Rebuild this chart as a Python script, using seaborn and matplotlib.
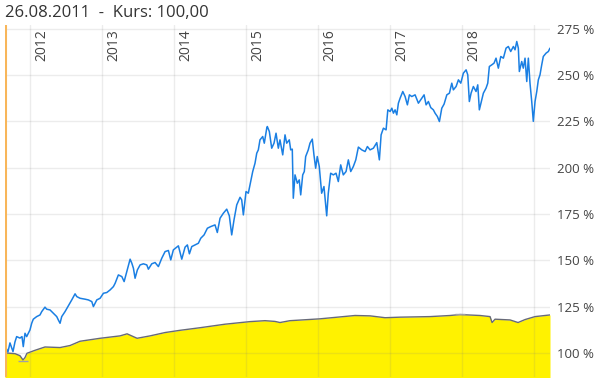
import numpy as np
import pandas as pd
import seaborn as sns
import matplotlib.pyplot as plt
import matplotlib.ticker as mtick
import matplotlib.transforms as mtrans

# share price in % of the 26.08.2011 close (time as decimal year)
kurs_t = [2011.653, 2011.667, 2011.694, 2011.722, 2011.764, 2011.792, 2011.815, 2011.861, 2011.889, 2011.907,
          2011.931, 2011.954, 2012.000, 2012.024, 2012.046, 2012.093, 2012.139, 2012.163, 2012.208, 2012.232,
          2012.278, 2012.324, 2012.371, 2012.393, 2012.417, 2012.440, 2012.486, 2012.532, 2012.579, 2012.625,
          2012.649, 2012.694, 2012.764, 2012.810, 2012.857, 2012.879, 2012.926, 2012.972, 2013.018, 2013.065,
          2013.111, 2013.157, 2013.181, 2013.226, 2013.274, 2013.306, 2013.343, 2013.389, 2013.413, 2013.435,
          2013.458, 2013.490, 2013.528, 2013.574, 2013.621, 2013.643, 2013.690, 2013.736, 2013.782, 2013.829,
          2013.875, 2013.921, 2013.954, 2013.990, 2014.060, 2014.107, 2014.153, 2014.185, 2014.213, 2014.246,
          2014.292, 2014.338, 2014.371, 2014.417, 2014.463, 2014.510, 2014.569, 2014.601, 2014.639, 2014.685,
          2014.732, 2014.768, 2014.801, 2014.833, 2014.871, 2014.917, 2014.940, 2014.963, 2015.000, 2015.032,
          2015.056, 2015.093, 2015.125, 2015.149, 2015.171, 2015.194, 2015.232, 2015.254, 2015.288, 2015.296,
          2015.324, 2015.357, 2015.389, 2015.417, 2015.449, 2015.472, 2015.510, 2015.542, 2015.565, 2015.601,
          2015.621, 2015.643, 2015.657, 2015.681, 2015.713, 2015.740, 2015.760, 2015.788, 2015.810, 2015.829,
          2015.865, 2015.889, 2015.921, 2015.944, 2015.968, 2015.990, 2016.018, 2016.051, 2016.083, 2016.121,
          2016.143, 2016.176, 2016.213, 2016.250, 2016.282, 2016.315, 2016.351, 2016.389, 2016.421, 2016.454,
          2016.490, 2016.524, 2016.560, 2016.607, 2016.653, 2016.685, 2016.722, 2016.768, 2016.815, 2016.851,
          2016.875, 2016.907, 2016.944, 2016.968, 2017.000, 2017.024, 2017.046, 2017.069, 2017.093, 2017.115,
          2017.139, 2017.176, 2017.208, 2017.240, 2017.268, 2017.301, 2017.347, 2017.393, 2017.440, 2017.472,
          2017.500, 2017.532, 2017.565, 2017.601, 2017.625, 2017.657, 2017.685, 2017.718, 2017.750, 2017.788,
          2017.824, 2017.857, 2017.879, 2017.917, 2017.949, 2017.982, 2018.018, 2018.056, 2018.079, 2018.101,
          2018.125, 2018.157, 2018.194, 2018.218, 2018.240, 2018.274, 2018.296, 2018.333, 2018.357, 2018.379,
          2018.413, 2018.444, 2018.472, 2018.504, 2018.538, 2018.574, 2018.611, 2018.643, 2018.676, 2018.713,
          2018.736, 2018.760, 2018.782, 2018.796, 2018.829, 2018.851, 2018.875, 2018.899, 2018.921, 2018.944,
          2018.968, 2018.990, 2019.014, 2019.038, 2019.060, 2019.083, 2019.107, 2019.129, 2019.167, 2019.199,
          2019.222]
kurs_v = [100.0, 102.7, 100.5, 105.4, 100.7, 106.0, 108.8, 108.0, 108.8, 103.4,
          110.6, 108.8, 112.4, 116.0, 118.2, 119.6, 120.5, 122.3, 124.7, 123.6,
          123.2, 121.4, 119.6, 117.8, 116.0, 119.6, 122.3, 125.4, 128.6, 131.9,
          130.4, 129.5, 129.0, 128.6, 127.7, 125.0, 128.6, 129.5, 132.2, 132.6,
          134.0, 135.8, 137.6, 142.1, 141.2, 138.5, 143.9, 150.6, 148.4, 145.7,
          140.3, 144.8, 147.5, 148.1, 147.5, 145.2, 148.1, 148.8, 146.6, 151.1,
          154.7, 155.3, 150.2, 155.6, 157.8, 150.6, 157.1, 158.3, 153.5, 157.4,
          158.3, 159.2, 161.9, 163.7, 167.3, 168.2, 169.1, 165.0, 172.7, 175.4,
          177.6, 174.0, 163.7, 171.8, 179.9, 184.0, 182.6, 174.5, 187.1, 186.2,
          190.7, 197.9, 202.4, 207.8, 209.6, 215.0, 216.8, 213.2, 221.3, 222.2,
          219.5, 210.5, 213.2, 218.6, 210.5, 215.0, 206.9, 217.7, 213.2, 215.0,
          209.6, 210.0, 183.5, 196.1, 191.6, 193.4, 185.3, 196.1, 197.9, 206.0,
          209.6, 213.2, 215.4, 206.9, 199.7, 206.0, 200.6, 186.2, 189.8, 174.0,
          186.2, 197.0, 196.1, 197.0, 192.5, 201.5, 196.1, 197.9, 204.2, 197.9,
          200.6, 204.2, 211.1, 209.6, 208.7, 211.4, 209.6, 210.5, 213.5, 204.2,
          217.7, 221.3, 220.4, 231.2, 230.3, 232.1, 229.4, 231.2, 228.5, 234.8,
          237.5, 241.1, 238.4, 233.9, 239.3, 238.4, 239.3, 234.8, 237.5, 239.3,
          233.9, 235.7, 232.4, 231.2, 229.4, 227.6, 224.9, 232.1, 234.3, 239.3,
          240.2, 245.6, 242.0, 243.8, 247.4, 245.6, 251.0, 252.8, 250.1, 235.7,
          240.2, 243.8, 241.1, 244.7, 231.2, 236.6, 240.2, 242.9, 245.6, 254.6,
          255.5, 256.4, 259.1, 253.7, 260.0, 259.1, 264.5, 265.4, 262.7, 265.4,
          263.6, 268.1, 264.5, 251.9, 257.3, 253.7, 259.1, 246.5, 259.1, 245.6,
          235.7, 225.0, 235.7, 241.1, 247.4, 250.1, 255.5, 260.0, 261.8, 262.7,
          264.5]

# comparison index (yellow area)
idx_t = [2011.653, 2011.792, 2011.861, 2011.903, 2011.931, 2011.958, 2012.069, 2012.208, 2012.417, 2012.556,
         2012.694, 2012.972, 2013.250, 2013.347, 2013.486, 2013.667, 2013.875, 2014.083, 2014.361, 2014.708,
         2015.056, 2015.264, 2015.403, 2015.472, 2015.611, 2016.028, 2016.514, 2016.722, 2016.931, 2017.139,
         2017.556, 2017.833, 2017.972, 2018.250, 2018.389, 2018.417, 2018.458, 2018.667, 2018.778, 2018.875,
         2019.014, 2019.222]
idx_v = [100.0, 99.6, 98.5, 96.2, 97.5, 99.8, 101.4, 103.2, 102.9, 104.0,
         106.3, 107.9, 109.2, 110.3, 107.9, 109.2, 111.0, 112.2, 113.6, 115.5,
         116.9, 117.4, 117.0, 116.4, 117.4, 118.4, 120.2, 120.0, 119.0, 119.3,
         119.6, 120.2, 120.7, 120.2, 119.6, 116.4, 118.2, 117.8, 116.4, 118.0,
         119.6, 120.5]

year_labels = ['2012', '2013', '2014', '2015', '2016', '2017', '2018']
grid_years = [2012, 2013, 2014, 2015, 2016, 2017, 2018, 2019]
y_ticks = [100, 125, 150, 175, 200, 225, 250, 275]
title = '26.08.2011  -  Kurs: 100,00'


def to_date(t):
    t = np.asarray(t, dtype=float)
    yr = np.floor(t).astype(int)
    start = pd.to_datetime([f'{y}-01-01' for y in yr])
    end = pd.to_datetime([f'{y + 1}-01-01' for y in yr])
    return start + (end - start) * (t - yr)


kurs = pd.DataFrame({'Datum': to_date(kurs_t), 'Kurs': kurs_v})
index = pd.DataFrame({'Datum': to_date(idx_t), 'Index': idx_v})

sns.set_style('white')
plt.rcParams['font.family'] = ['Open Sans', 'DejaVu Sans']

fig = plt.figure(figsize=(6.04, 3.82), dpi=100)
ax = fig.add_axes([5 / 604, 5 / 382, 545 / 604, 352 / 382])

# yellow area with grey outline
ax.fill_between(index['Datum'], index['Index'], 0, color='#fff200', lw=0, zorder=1)
sns.lineplot(data=index, x='Datum', y='Index', ax=ax, color='#676a78', lw=1.0, zorder=1.5)

# small min / max markers of the index
imin = int(np.argmin(idx_v))
imax = int(np.argmax(idx_v))
d = pd.Timedelta(days=25)
ax.hlines(idx_v[imin] - 0.6, index['Datum'][imin] - d, index['Datum'][imin] + d, color='#a0a0a8', lw=1, zorder=1.6)
ax.hlines(idx_v[imax] + 0.4, index['Datum'][imax] - d, index['Datum'][imax] + d, color='#a0a0a8', lw=1, zorder=1.6)

sns.lineplot(data=kurs, x='Datum', y='Kurs', ax=ax, color='#1a7fe3', lw=1.1, zorder=3)

# start marker
ax.axvline(kurs['Datum'][0], color='#f8b65a', lw=2.2, zorder=4)

ax.set_xlim(kurs['Datum'].iloc[0], kurs['Datum'].iloc[-1])
ax.set_ylim(87.0, 277.0)

ax.set_xticks(to_date(grid_years))
ax.set_xticklabels([])
ax.set_yticks(y_ticks)
ax.yaxis.tick_right()
ax.yaxis.set_major_formatter(mtick.FuncFormatter(lambda v, p: f'{v:.0f} %'))
ax.tick_params(axis='y', length=0, pad=5, labelsize=9.5, labelcolor='#444444')
ax.tick_params(axis='x', length=0)
ax.set_xlabel('')
ax.set_ylabel('')

ax.set_axisbelow(False)
ax.grid(True, color='#808080', alpha=0.15, lw=1)
for s in ax.spines.values():
    s.set_visible(False)

trans = mtrans.blended_transform_factory(ax.transData, ax.transAxes)
off = mtrans.ScaledTranslation(4 / 100, -4 / 100, fig.dpi_scale_trans)
for lab, dt in zip(year_labels, to_date([int(y) for y in year_labels])):
    ax.text(dt, 1.0, lab, rotation=90, ha='left', va='top', fontsize=10,
            color='#444444', transform=trans + off)

fig.text(5 / 604, 1 - 5 / 382, title, ha='left', va='top', fontsize=12, color='#333333')

plt.savefig('out.png', dpi=100)
